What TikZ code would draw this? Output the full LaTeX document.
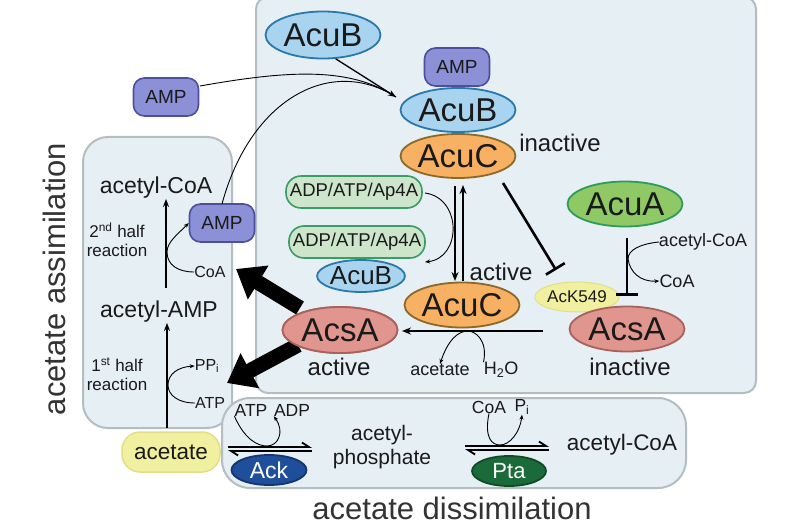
\documentclass[tikz,border=0pt]{standalone}
\usepackage{fontspec}
\setmainfont{Liberation Sans}
\usetikzlibrary{shapes.geometric,arrows.meta}
\definecolor{panelfill}{HTML}{E6EFF4}
\definecolor{paneldraw}{HTML}{B3BDC2}
\definecolor{ampfill}{HTML}{8C90D6}
\definecolor{ampdraw}{HTML}{4B4F9C}
\definecolor{acubfill}{HTML}{A8D4F0}
\definecolor{acubdraw}{HTML}{2B79AA}
\definecolor{acucfill}{HTML}{F8B162}
\definecolor{acucdraw}{HTML}{8A6A2A}
\definecolor{acuafill}{HTML}{8EC965}
\definecolor{acuadraw}{HTML}{2F9A5A}
\definecolor{acsafill}{HTML}{E0968F}
\definecolor{acsadraw}{HTML}{A8625C}
\definecolor{yelfill}{HTML}{F1F0A0}
\definecolor{yeldraw}{HTML}{E0DF88}
\definecolor{greenfill}{HTML}{CDE6CB}
\definecolor{greendraw}{HTML}{3B9C66}
\definecolor{ackfill}{HTML}{1F4E9B}
\definecolor{ackdraw}{HTML}{143670}
\definecolor{ptafill}{HTML}{1B6A39}
\definecolor{ptadraw}{HTML}{124A27}
\definecolor{ink}{HTML}{1A1A1A}
\newcommand\fsz[1]{\fontsize{#1}{#1}\selectfont}
\begin{document}
\begin{tikzpicture}[x=1pt,y=-1pt,text=ink,
  panel/.style={fill=panelfill,draw=paneldraw,line width=2pt},
  ell/.style={ellipse,draw,line width=1.8pt,inner sep=0pt},
  rbox/.style={rectangle,draw,line width=1.6pt,inner sep=0pt},
  ampbox/.style={rbox,rounded corners=11pt,fill=ampfill,draw=ampdraw,minimum width=65pt,minimum height=38pt,font=\fsz{19}},
  adpbox/.style={rbox,rounded corners=15pt,fill=greenfill,draw=greendraw,minimum width=136pt,minimum height=32pt,font=\fsz{18.5}},
  bigell/.style={ell,minimum width=115pt,minimum height=45pt,font=\fsz{33}},
  acub/.style={fill=acubfill,draw=acubdraw},
  acuc/.style={fill=acucfill,draw=acucdraw},
  acsa/.style={fill=acsafill,draw=acsadraw},
  lbl/.style={inner sep=0pt},
  thinarr/.style={line width=0.9pt,-{Stealth[length=5pt,width=4pt]}},
  thinline/.style={line width=0.9pt},
  mainarr/.style={line width=2.2pt,-{Stealth[length=9pt,width=7pt]}},
  inhib/.style={line width=2.6pt,-{Bar[width=22pt]}},
  bigarr/.style={line width=15pt,-{Triangle[length=26pt,width=38pt]}},
  harp/.style={line width=1.8pt,-{Straight Barb[harpoon,length=7pt,width=9pt]}}
]
\useasboundingbox (0,0) rectangle (800,524);

% panels
\draw[panel,rounded corners=12pt] (256,-3) rectangle (756,393);
\draw[panel,rounded corners=25pt] (83,137) rectangle (232,428);
\draw[panel,rounded corners=28pt] (222,398) rectangle (686,488);

% side titles
\node[lbl,rotate=90,anchor=base,font=\fsz{31},text=black!80] (tassim) at (65,279) {acetate assimilation};
\node[lbl,anchor=base,font=\fsz{31},text=black!80] (tdissim) at (452,519) {acetate dissimilation};

% top part of the regulation panel
\node[bigell,acub,minimum height=47pt] (acubA) at (323,35) {AcuB};
\node[ampbox] (ampA) at (166,97) {AMP};
\node[ampbox] (ampB) at (457,67) {AMP};
\node[bigell,acub,minimum height=44pt] (acubB) at (458,110) {AcuB};
\node[bigell,acuc,minimum height=44pt] (acucA) at (458,156) {AcuC};
\node[lbl,font=\fsz{24}] (inactA) at (560,143) {inactive};

\node[adpbox] (adpA) at (354,192) {ADP/ATP/Ap4A};
\node[adpbox] (adpB) at (357,242) {ADP/ATP/Ap4A};
\node[ell,acub,minimum width=85pt,minimum height=32pt,font=\fsz{26}] (acubC) at (361,276) {AcuB};
\node[lbl,font=\fsz{24}] (activeA) at (501,272) {active};
\node[bigell,acuc] (acucB) at (462,305) {AcuC};
\node[bigell,acsa,minimum height=46pt] (acsaA) at (340,330) {AcsA};
\node[lbl,font=\fsz{24}] (activeB) at (339,367) {active};
\node[lbl,font=\fsz{18}] (acetS) at (440,370) {acetate};
\node[lbl,font=\fsz{18}] (water) at (501,370) {H\textsubscript{2}O};

\node[bigell,fill=acuafill,draw=acuadraw] (acuA) at (625,204) {AcuA};
\node[lbl,font=\fsz{18}] (acoaS) at (703,242) {acetyl-CoA};
\node[lbl,font=\fsz{18}] (coaS) at (677,281) {CoA};
\node[ell,fill=yelfill,draw=yeldraw,line width=1pt,minimum width=73pt,minimum height=30pt,font=\fsz{17}] (ack549) at (577,297) {AcK549};
\node[bigell,acsa] (acsaB) at (627,329) {AcsA};
\node[lbl,font=\fsz{24}] (inactB) at (630,367) {inactive};

% left panel (assimilation)
\node[lbl,font=\fsz{23}] (acoaL) at (156,188) {acetyl-CoA};
\node[ampbox] (ampC) at (222,223) {AMP};
\node[lbl,font=\fsz{17},align=center] (half2) at (117,240) {2\textsuperscript{nd} half\\[2pt]reaction};
\node[lbl,font=\fsz{16}] (coaL) at (210,272) {CoA};
\node[lbl,font=\fsz{23}] (aamp) at (159,312) {acetyl-AMP};
\node[lbl,font=\fsz{17},align=center] (half1) at (117,374) {1\textsuperscript{st} half\\[2pt]reaction};
\node[lbl,font=\fsz{16}] (ppi) at (207,366) {PP\textsubscript{i}};
\node[lbl,font=\fsz{16}] (atpL) at (210,403) {ATP};

% bottom panel (dissimilation)
\node[rbox,rounded corners=18pt,fill=yelfill,draw=yeldraw,line width=1.5pt,minimum width=98pt,minimum height=40pt,font=\fsz{22.5}] (acetate) at (171,452) {acetate};
\node[lbl,font=\fsz{17.5}] (atpB) at (251,410) {ATP};
\node[lbl,font=\fsz{17.5}] (adpS) at (292,410) {ADP};
\node[ell,fill=ackfill,draw=ackdraw,minimum width=75pt,minimum height=30pt,font=\fsz{23},text=white] (ack) at (269,470) {Ack};
\node[lbl,font=\fsz{21},align=center] (acp) at (382,447) {acetyl-\\[3pt]phosphate};
\node[lbl,font=\fsz{17.5}] (coaB) at (489,407) {CoA};
\node[lbl,font=\fsz{17.5}] (pi) at (522,407) {P\textsubscript{i}};
\node[ell,fill=ptafill,draw=ptadraw,minimum width=74pt,minimum height=30pt,font=\fsz{22},text=white] (pta) at (509,471) {Pta};
\node[lbl,font=\fsz{22.5}] (acoaB) at (622,445) {acetyl-CoA};

% coordinates
\coordinate (ampTip) at (396,97);
\coordinate (ampAout) at (200,86);
\coordinate (ampCout) at (222,204);
\coordinate (acucAdownS) at (455,186);
\coordinate (acucBdownE) at (455,281);
\coordinate (acucBupS) at (463,281);
\coordinate (acucAupE) at (463,185);
\coordinate (adpcurveS) at (425,193);
\coordinate (adpcurveE) at (425,262);
\coordinate (inhS) at (503,183);
\coordinate (inhE) at (556,270);
\coordinate (hydS) at (543,331);
\coordinate (hydE) at (402,331);
\coordinate (acuaS) at (627,238);
\coordinate (acuaE) at (627,296);
\coordinate (bigAs) at (300,308);
\coordinate (bigAe) at (236,269);
\coordinate (bigBs) at (298,345);
\coordinate (bigBe) at (227,383);

% AMP binding arrows
\draw[thinline] (ampAout) .. controls (290,70) and (350,67) .. (ampTip);
\draw[thinline] (ampCout) .. controls (250,100) and (330,55) .. (ampTip);
\draw[line width=1.3pt,-{Stealth[length=8pt,width=6pt]}] (acubA.-62) -- (ampTip);

% AcuC equilibrium
\draw[mainarr] (acucAdownS) -- (acucBdownE);
\draw[mainarr] (acucBupS) -- (acucAupE);
\draw[thinarr] (adpcurveS) .. controls (462,198) and (462,258) .. (adpcurveE);

% inhibition
\draw[inhib] (inhS) -- (inhE);
\draw[inhib] (acuaS) -- (acuaE);
\draw[thinline] (acoaS.west) .. controls (640,244) and (628,250) .. (628,259);
\draw[thinarr] (628,259) .. controls (630,272) and (640,282) .. (coaS.west);

% deacetylation
\draw[line width=2pt,-{Stealth[length=9pt,width=7pt]}] (hydS) -- (hydE);
\draw[thinarr] (water.north west) .. controls (488,340) and (475,331) .. (468,331) .. controls (458,331) and (448,340) .. (acetS.north);

% big arrows
\draw[bigarr] (bigAs) -- (bigAe);
\draw[bigarr] (bigBs) -- (bigBe);
\node[bigell,acsa,minimum height=46pt] at (acsaA) {AcsA};

% assimilation arrows
\draw[line width=2pt,-{Stealth[length=8pt,width=6pt]}] (166,288) -- (acoaL.south -| 166,0);
\draw[line width=2pt,-{Stealth[length=8pt,width=6pt]}] (167,428) -- (aamp.south -| 167,0);
\draw[thinarr] (coaL.west) .. controls (178,272) and (167,265) .. (167,252) .. controls (167,242) and (178,234) .. (ampC.west);
\draw[thinarr] (atpL.west) .. controls (178,403) and (168,395) .. (168,385) .. controls (168,374) and (178,367) .. (ppi.west);

% dissimilation equilibria
\draw[harp] (228,447) -- (312,447);
\draw[harp] (312,451) -- (228,451);
\draw[harp] (465,446) -- (549,446);
\draw[harp] (549,450) -- (465,450);
\draw[thinarr] (atpB.south west) .. controls (245,440) and (258,446) .. (267,446) .. controls (278,446) and (285,432) .. (adpS.south west);
\draw[thinarr] (coaB.south) .. controls (484,438) and (492,445) .. (500,445) .. controls (510,445) and (520,432) .. (pi.south);
\end{tikzpicture}
\end{document}
